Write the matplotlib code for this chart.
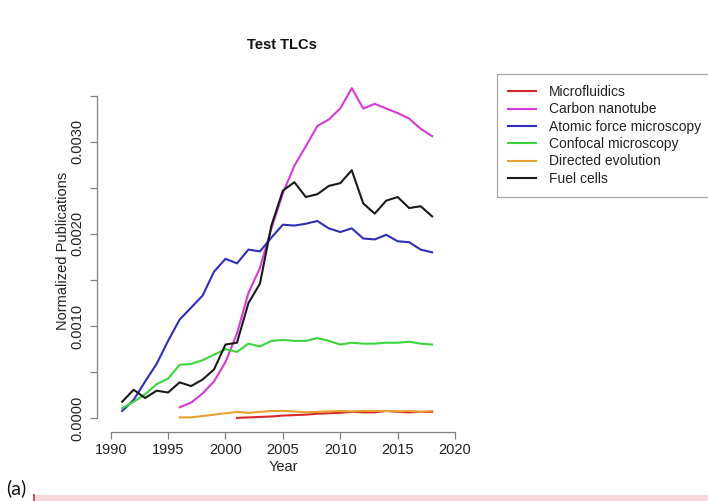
import matplotlib
matplotlib.use("Agg")
from matplotlib import pyplot as plt
from matplotlib.patches import Rectangle
import numpy as np

plt.rcParams['font.family'] = ['Liberation Sans', 'DejaVu Sans']

# normalized publication counts per year
years_all = list(range(1991, 2019))

micro_years = list(range(2001, 2019))
microfluidics = [0.000005, 0.00001, 0.000015, 0.00002, 0.00003, 0.000035, 0.00004,
                 0.00005, 0.000055, 0.00006, 0.00007, 0.000065, 0.000065, 0.00008,
                 0.00007, 0.000065, 0.00007, 0.00007]

cnt_years = list(range(1996, 2019))
carbon_nanotube = [0.00012, 0.00017, 0.00027, 0.00040, 0.00061, 0.00092, 0.00136,
                   0.00163, 0.00206, 0.00244, 0.00274, 0.00295, 0.00317, 0.00324,
                   0.00336, 0.00358, 0.00336, 0.00341, 0.00336, 0.00331, 0.00325,
                   0.00314, 0.00306]

afm = [0.00008, 0.00020, 0.00040, 0.00059, 0.00084, 0.00107, 0.00120, 0.00133,
       0.00159, 0.00173, 0.00168, 0.00183, 0.00181, 0.00196, 0.00210, 0.00209,
       0.00211, 0.00214, 0.00206, 0.00202, 0.00206, 0.00195, 0.00194, 0.00199,
       0.00192, 0.00191, 0.00183, 0.00180]

confocal = [0.00011, 0.00018, 0.00026, 0.00037, 0.00043, 0.00058, 0.00059, 0.00063,
            0.00069, 0.00075, 0.00072, 0.00081, 0.00078, 0.00084, 0.00085, 0.00084,
            0.00084, 0.00087, 0.00084, 0.00080, 0.00082, 0.00081, 0.00081, 0.00082,
            0.00082, 0.00083, 0.00081, 0.00080]

de_years = list(range(1996, 2019))
directed_evolution = [0.00001, 0.00001, 0.000025, 0.00004, 0.000055, 0.00007, 0.00006,
                      0.00007, 0.00008, 0.00008, 0.000075, 0.000065, 0.00007, 0.000075,
                      0.00008, 0.000075, 0.00008, 0.00008, 0.00008, 0.000075, 0.00008,
                      0.00007, 0.00008]

fuel_cells = [0.00018, 0.00031, 0.00022, 0.00030, 0.00028, 0.00039, 0.00035, 0.00042,
              0.00053, 0.00080, 0.00082, 0.00125, 0.00146, 0.00209, 0.00247, 0.00256,
              0.00240, 0.00243, 0.00252, 0.00255, 0.00269, 0.00233, 0.00222, 0.00236,
              0.00240, 0.00228, 0.00230, 0.00219]

series = [
    ("Microfluidics", micro_years, microfluidics, "#d62a2a"),
    ("Carbon nanotube", cnt_years, carbon_nanotube, "#d63ad6"),
    ("Atomic force microscopy", years_all, afm, "#2e2eb8"),
    ("Confocal microscopy", years_all, confocal, "#3ad63a"),
    ("Directed evolution", de_years, directed_evolution, "#e8a030"),
    ("Fuel cells", years_all, fuel_cells, "#1a1a1a"),
]

fig = plt.figure(figsize=(7.08, 5.01), dpi=100)
ax = fig.add_axes([0.1369, 0.1383, 0.5253, 0.7216])

handles = []
for name, xs, ys, col in series:
    h, = ax.plot(xs, ys, color=col, lw=1.5, label=name)
    handles.append(h)

ax.set_xlim(1988.8, 2021.2)
ax.set_ylim(-0.000145, 0.003775)

axis_gray = "#808080"
for s in ["top", "right"]:
    ax.spines[s].set_visible(False)
ax.spines["left"].set_bounds(0, 0.0035)
ax.spines["bottom"].set_bounds(1990, 2020)
for s in ["left", "bottom"]:
    ax.spines[s].set_color(axis_gray)
    ax.spines[s].set_linewidth(0.9)

ax.set_xticks(range(1990, 2021, 5))
yt = np.arange(0, 0.00351, 0.0005)
ax.set_yticks(yt)
ax.set_yticklabels(["%.4f" % v if i % 2 == 0 else "" for i, v in enumerate(yt)],
                   rotation=90, va="center")
ax.tick_params(axis="both", colors=axis_gray, labelcolor="#222222",
               labelsize=10.5, length=5, width=0.9)
ax.tick_params(axis="y", pad=4)
ax.tick_params(axis="x", pad=3)

ax.set_xlabel("Year", fontsize=10.5, color="#222222")
ax.xaxis.set_label_coords(0.5, -0.078)
ax.set_ylabel("Normalized Publications", fontsize=10.5, color="#222222", va="center")
ax.yaxis.set_label_coords(-0.092, 0.5)

fig.text(282 / 708, 1 - 45 / 501, "Test TLCs", ha="center", va="center",
         fontsize=10.5, fontweight="bold", color="#111111")

leg = fig.legend(handles=handles, loc="upper left",
                 bbox_to_anchor=(497 / 708, 1 - 74 / 501),
                 fontsize=10, frameon=True, fancybox=False,
                 borderpad=0.8, labelspacing=0.24, handlelength=2.0,
                 handletextpad=0.95, borderaxespad=0)
leg.get_frame().set_edgecolor("#909090")
leg.get_frame().set_linewidth(0.9)
for t in leg.get_texts():
    t.set_color("#222222")

# panel label and the shaded band under it
fig.text(6 / 708, 1 - 488 / 501, "(a)", ha="left", va="center",
         fontsize=14, family=["Lato", "DejaVu Sans"], color="#111111")
fig.patches.append(Rectangle((33 / 708, 0), 1 - 33 / 708, 6 / 501,
                             transform=fig.transFigure, facecolor="#f9d8dc",
                             edgecolor="none"))
fig.patches.append(Rectangle((33 / 708, 0), 1.5 / 708, 7 / 501,
                             transform=fig.transFigure, facecolor="#d05060",
                             edgecolor="none"))

fig.savefig("out.png", dpi=100)
